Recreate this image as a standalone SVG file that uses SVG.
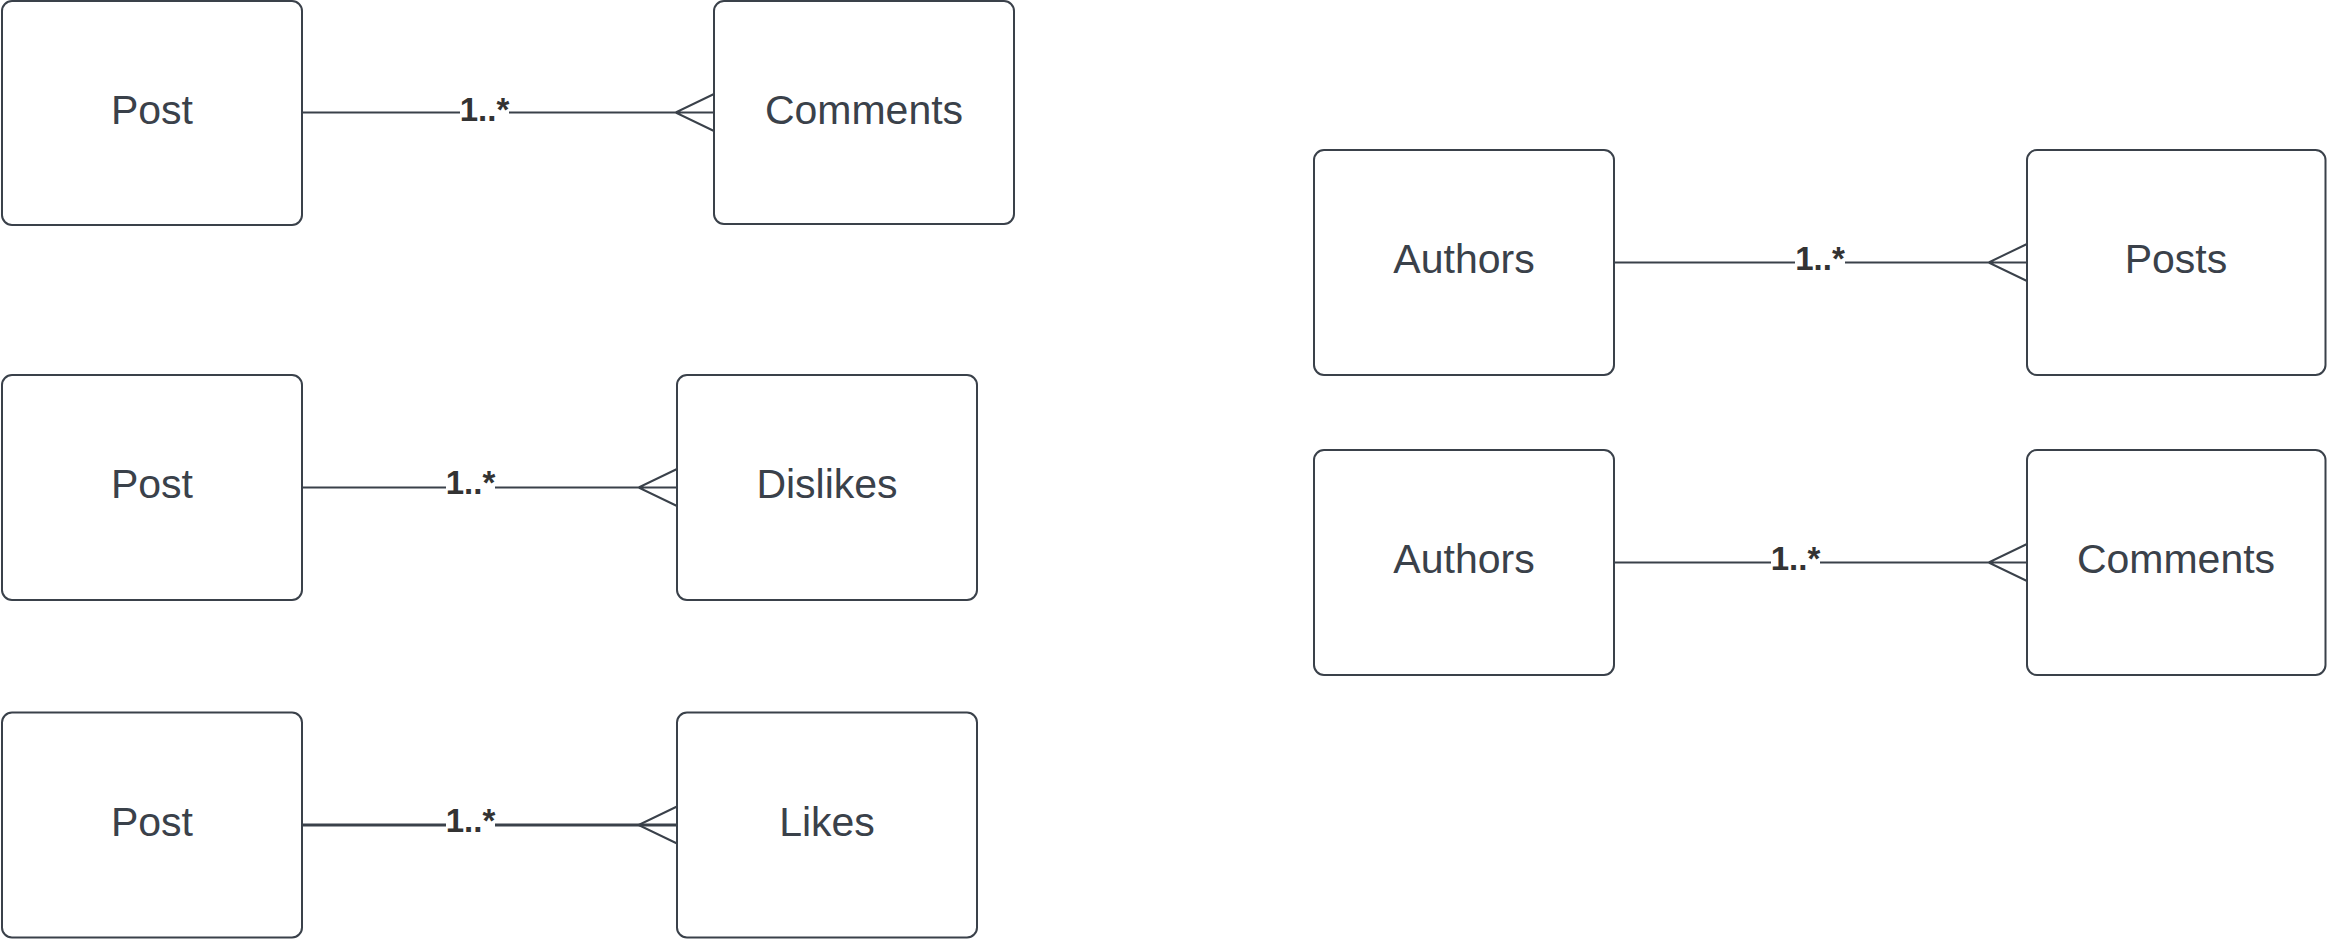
<svg xmlns="http://www.w3.org/2000/svg" width="2327" height="939" viewBox="0 0 2327 939">
<style>
.box{fill:#ffffff;stroke:#3a414a;stroke-width:2}
.lbl{font-family:"Liberation Sans",Arial,sans-serif;font-size:41px;fill:#3a414a;text-anchor:middle}
.ln{stroke:#3a414a;stroke-width:2;fill:none}
.ln3{stroke:#3a414a;stroke-width:3;fill:none}
.mult{font-family:"Liberation Sans",Arial,sans-serif;font-size:33px;font-weight:bold;fill:#333333;text-anchor:middle}
.bg{fill:#ffffff}
</style>
<rect width="2327" height="939" fill="#ffffff"/>
<g id="connectors">
  <g id="c1">
    <path class="ln" d="M303 112.5H714M714 94L675.5 112.5L714 131"/>
    <rect class="bg" x="460" y="95" width="49" height="34"/>
    <text class="mult" x="484.5" y="120.5">1..*</text>
  </g>
  <g id="c2">
    <path class="ln" d="M303 487.5H677M677 469L638.5 487.5L677 506"/>
    <rect class="bg" x="446" y="470" width="49" height="34"/>
    <text class="mult" x="470.5" y="494">1..*</text>
  </g>
  <g id="c3">
    <path class="ln3" d="M303 825H677"/>
    <path class="ln" d="M677 806.5L638.5 825L677 843.5"/>
    <rect class="bg" x="446" y="807" width="49" height="34"/>
    <text class="mult" x="470.5" y="831.5">1..*</text>
  </g>
  <g id="c4">
    <path class="ln" d="M1615 262.5H2027M2027 244L1988.5 262.5L2027 281"/>
    <rect class="bg" x="1795" y="245" width="50" height="34"/>
    <text class="mult" x="1820" y="269.5">1..*</text>
  </g>
  <g id="c5">
    <path class="ln" d="M1615 562.5H2027M2027 544L1988.5 562.5L2027 581"/>
    <rect class="bg" x="1771" y="545" width="49" height="34"/>
    <text class="mult" x="1795.5" y="569.5">1..*</text>
  </g>
</g>
<g id="post1"><rect class="box" x="2" y="1" width="300" height="224" rx="10"/><text class="lbl" x="152" y="123.5">Post</text></g>
<g id="comments1"><rect class="box" x="714" y="1" width="300" height="223" rx="10"/><text class="lbl" x="864" y="123.5">Comments</text></g>
<g id="post2"><rect class="box" x="2" y="375" width="300" height="225" rx="10"/><text class="lbl" x="152" y="498">Post</text></g>
<g id="dislikes"><rect class="box" x="677" y="375" width="300" height="225" rx="10"/><text class="lbl" x="827" y="498">Dislikes</text></g>
<g id="post3"><rect class="box" x="2" y="712.5" width="300" height="225" rx="10"/><text class="lbl" x="152" y="835.5">Post</text></g>
<g id="likes"><rect class="box" x="677" y="712.5" width="300" height="225" rx="10"/><text class="lbl" x="827" y="835.5">Likes</text></g>
<g id="authors1"><rect class="box" x="1314" y="150" width="300" height="225" rx="10"/><text class="lbl" x="1464" y="273">Authors</text></g>
<g id="posts"><rect class="box" x="2027" y="150" width="298.5" height="225" rx="10"/><text class="lbl" x="2176" y="273">Posts</text></g>
<g id="authors2"><rect class="box" x="1314" y="450" width="300" height="225" rx="10"/><text class="lbl" x="1464" y="573">Authors</text></g>
<g id="comments2"><rect class="box" x="2027" y="450" width="298.5" height="225" rx="10"/><text class="lbl" x="2176" y="573">Comments</text></g>
</svg>
